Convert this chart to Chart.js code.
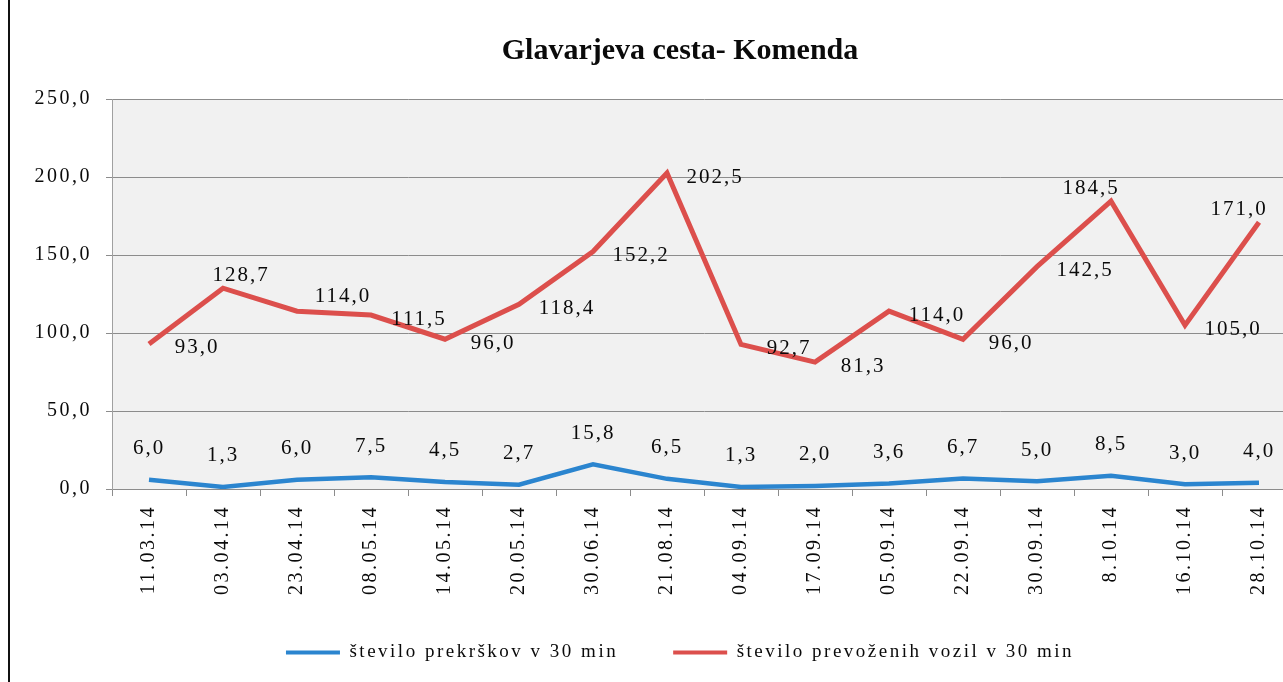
<!DOCTYPE html>
<html>
<head>
<meta charset="utf-8">
<script src="https://cdn.jsdelivr.net/npm/chart.js@4.4.1/dist/chart.umd.min.js"></script>
<style>
  html, body { margin: 0; padding: 0; background: #fff; overflow: hidden; }
  #wrap { position: relative; width: 1310px; height: 682px; }
  #edge { position: absolute; left: 8px; top: 0; width: 2px; height: 682px; background: #111; }
</style>
</head>
<body>
<div id="wrap">
  <canvas id="chart" width="1310" height="682"></canvas>
  <div id="edge"></div>
</div>
<script>
// categories and values
const dates = ['11.03.14', '03.04.14', '23.04.14', '08.05.14', '14.05.14', '20.05.14', '30.06.14', '21.08.14',
  '04.09.14', '17.09.14', '05.09.14', '22.09.14', '30.09.14', '8.10.14', '16.10.14', '28.10.14'];
const prekrski = [6.0, 1.3, 6.0, 7.5, 4.5, 2.7, 15.8, 6.5, 1.3, 2.0, 3.6, 6.7, 5.0, 8.5, 3.0, 4.0];
const vozila = [93.0, 128.7, 114.0, 111.5, 96.0, 118.4, 152.2, 202.5, 92.7, 81.3, 114.0, 96.0, 142.5, 184.5, 105.0, 171.0];
const yTicks = [0, 50, 100, 150, 200, 250];

const SERIF = '"Liberation Serif", "Times New Roman", serif';
const SPACING = '2.5px';
const INK = '#0a0a0a';
const fmt = v => v.toFixed(1).replace('.', ',');

// scanned look: spaced lettering + grey plot background
const scanLook = {
  id: 'scanLook',
  beforeUpdate(chart) { chart.ctx.letterSpacing = SPACING; },
  afterLayout(chart) {
    // axes were squeezed in afterFit; widen their label clip boxes again
    chart.scales.y.left = 0;
    chart.scales.x.bottom = chart.height;
  },
  beforeDraw(chart) {
    const { ctx, chartArea: a } = chart;
    ctx.letterSpacing = SPACING;
    ctx.save();
    ctx.fillStyle = '#f1f1f1';
    ctx.fillRect(a.left, a.top, a.right - a.left, a.bottom - a.top);
    ctx.restore();
  }
};

// value labels next to each point
const valueLabels = {
  id: 'valueLabels',
  afterDatasetsDraw(chart, args, opts) {
    const ctx = chart.ctx;
    ctx.save();
    ctx.font = '21px ' + SERIF;
    ctx.letterSpacing = '2px';
    ctx.fillStyle = INK;
    ctx.textAlign = 'center';
    ctx.textBaseline = 'middle';
    chart.data.datasets.forEach((ds, di) => {
      chart.getDatasetMeta(di).data.forEach((pt, i) => {
        const [dx, dy] = opts.shift[opts.places[di][i]];
        ctx.fillText(fmt(ds.data[i]), pt.x + dx, pt.y + dy);
      });
    });
    ctx.restore();
  }
};

const chart = new Chart(document.getElementById('chart'), {
  type: 'line',
  data: {
    labels: dates,
    datasets: [
      {
        label: 'število prekrškov v 30 min',
        data: prekrski,
        borderColor: '#2b85cf',
        backgroundColor: '#2b85cf',
        borderWidth: 4.5,
        pointRadius: 0,
        tension: 0
      },
      {
        label: 'število prevoženih vozil v 30 min',
        data: vozila,
        borderColor: '#dc4f4c',
        backgroundColor: '#dc4f4c',
        borderWidth: 5,
        pointRadius: 0,
        tension: 0
      }
    ]
  },
  options: {
    responsive: false,
    animation: false,
    layout: { padding: { left: 64, right: 14, top: 0, bottom: 10 } },
    scales: {
      x: {
        offset: true,
        afterFit: axis => { axis.height -= 16; },
        grid: { drawOnChartArea: false, drawTicks: true, tickLength: 7, color: '#8c8c8c', offset: true },
        border: { color: '#8c8c8c' },
        ticks: {
          autoSkip: false, minRotation: 90, maxRotation: 90, padding: 9,
          color: INK, font: { family: SERIF, size: 20 }
        }
      },
      y: {
        min: 0, max: 250,
        afterFit: axis => { axis.width = 48; },
        afterBuildTicks: axis => { axis.ticks = yTicks.map(v => ({ value: v })); },
        grid: { color: '#8c8c8c', tickLength: 6 },
        border: { color: '#a0a0a0' },
        ticks: {
          padding: 14, color: INK, font: { family: SERIF, size: 20 },
          callback: v => fmt(v)
        }
      }
    },
    plugins: {
      title: {
        display: true,
        text: 'Glavarjeva cesta- Komenda',
        color: INK,
        font: { family: SERIF, size: 30, weight: 'bold' },
        padding: { top: 33, bottom: 30 }
      },
      legend: {
        position: 'bottom',
        labels: {
          boxWidth: 54, boxHeight: 4, padding: 55,
          color: INK, font: { family: SERIF, size: 19 },
          generateLabels: c => Chart.defaults.plugins.legend.labels.generateLabels(c)
            .map(l => ({ ...l, lineWidth: 0 }))
        }
      },
      tooltip: { enabled: false },
      valueLabels: {
        shift: { t: [0, -31], r: [48, 4], a: [18, -13], tr: [46, -15], tl: [-20, -13] },
        places: [
          Array(16).fill('t'),
          ['r', 'a', 'tr', 'r', 'r', 'r', 'r', 'r', 'r', 'r', 'r', 'r', 'r', 'tl', 'r', 'tl']
        ]
      }
    }
  },
  plugins: [scanLook, valueLabels]
});

// title is set tight, without the extra letter spacing
const titleDraw = chart.titleBlock.draw;
chart.titleBlock.draw = function () {
  const ctx = this.ctx;
  ctx.save();
  ctx.letterSpacing = '0px';
  titleDraw.apply(this, arguments);
  ctx.restore();
};
chart.draw();
</script>
</body>
</html>
